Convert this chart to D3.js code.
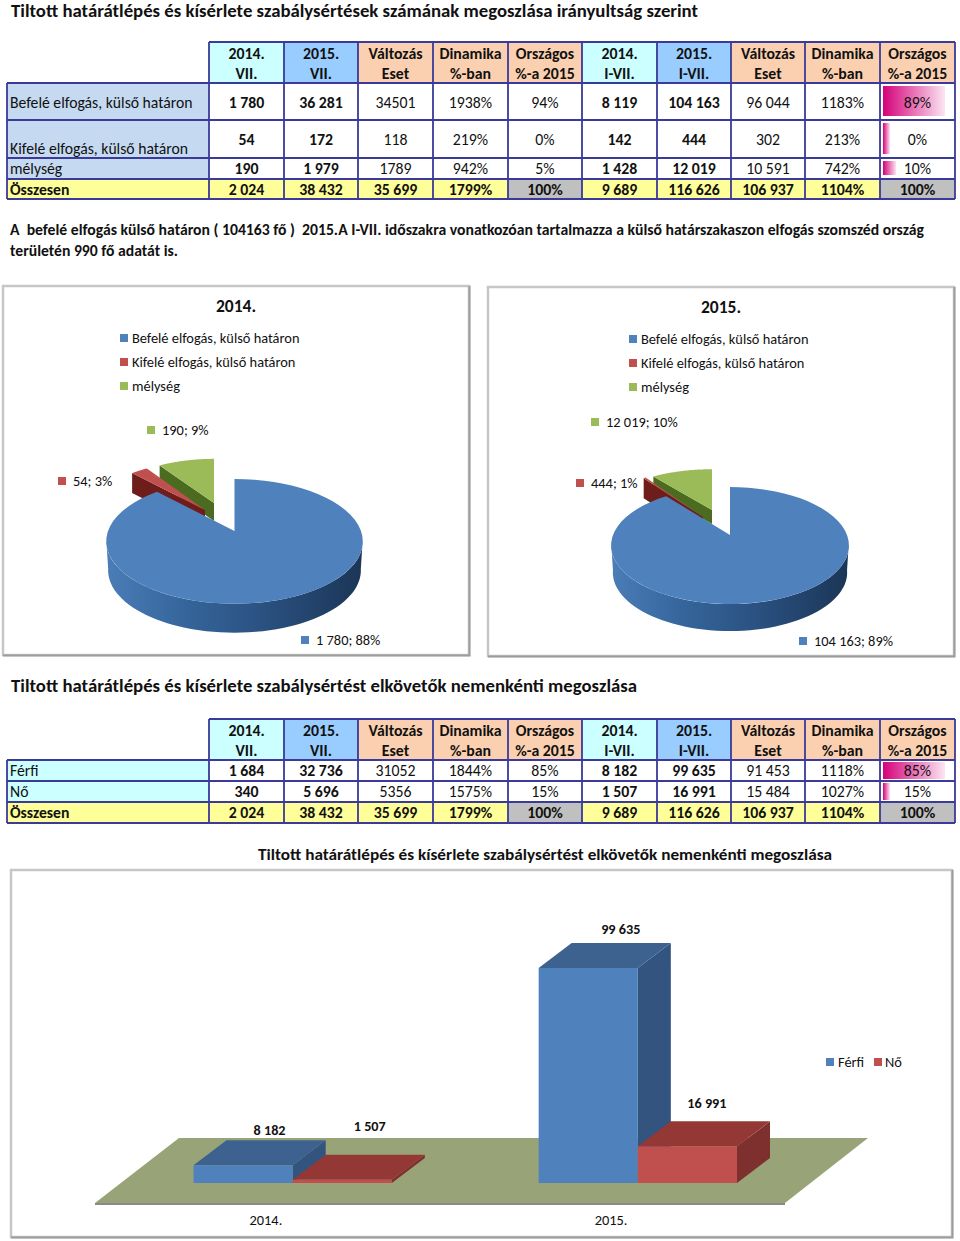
<!DOCTYPE html>
<html><head><meta charset="utf-8">
<script src="https://cdnjs.cloudflare.com/ajax/libs/d3/7.8.5/d3.min.js"></script>
<style>html,body{margin:0;padding:0;background:#fff}svg{display:block}text{font-family:Carlito,Lato,"Open Sans",sans-serif;fill:#111}</style>
</head><body><svg id="c" width="960" height="1241"></svg>
<script>
// ---- data ----
const title1 = "Tiltott határátlépés és kísérlete szabálysértések számának megoszlása irányultság szerint";
const title2 = "Tiltott határátlépés és kísérlete szabálysértést elkövetők nemenkénti megoszlása";
const note1 = "A  befelé elfogás külső határon ( 104163 fő )  2015.A I-VII. időszakra vonatkozóan tartalmazza a külső határszakaszon elfogás szomszéd ország";
const note2 = "területén 990 fő adatát is.";
const headerTop = ["2014.","2015.","Változás","Dinamika","Országos","2014.","2015.","Változás","Dinamika","Országos"];
const headerBottom = ["VII.","VII.","Eset","%-ban","%-a 2015","I-VII.","I-VII.","Eset","%-ban","%-a 2015"];
const table1Labels = ["Befelé elfogás, külső határon","Kifelé elfogás, külső határon","mélység","Összesen"];
const table1Rows = [
 ["1 780","36 281","34501","1938%","94%","8 119","104 163","96 044","1183%","89%"],
 ["54","172","118","219%","0%","142","444","302","213%","0%"],
 ["190","1 979","1789","942%","5%","1 428","12 019","10 591","742%","10%"],
 ["2 024","38 432","35 699","1799%","100%","9 689","116 626","106 937","1104%","100%"]];
const table1Share = [89,0,10];
const table2Labels = ["Férfi","Nő","Összesen"];
const table2Rows = [
 ["1 684","32 736","31052","1844%","85%","8 182","99 635","91 453","1118%","85%"],
 ["340","5 696","5356","1575%","15%","1 507","16 991","15 484","1027%","15%"],
 ["2 024","38 432","35 699","1799%","100%","9 689","116 626","106 937","1104%","100%"]];
const table2Share = [85,15];
const pieCategories = ["Befelé elfogás, külső határon","Kifelé elfogás, külső határon","mélység"];
const pie2014Values = [1780,54,190];
const pie2014Labels = ["1 780; 88%","54; 3%","190; 9%"];
const pie2015Values = [104163,444,12019];
const pie2015Labels = ["104 163; 89%","444; 1%","12 019; 10%"];
const barYears = ["2014.","2015."];
const barSeries = ["Férfi","Nő"];
const ferfiValues = [8182,99635];
const noValues = [1507,16991];
const ferfiLabels = ["8 182","99 635"];
const noLabels = ["1 507","16 991"];

// ---- layout ----
const svg = d3.select("#c");
const defs = svg.append("defs");
function T(parent,x,y,s,o={}){
  const t = parent.append("text").attr("x",x).attr("y",y).text(s)
    .attr("font-size",o.size||15.8).attr("font-weight",o.weight||400)
    .attr("text-anchor",o.anchor||"start").style("white-space","pre");
  if(o.width) t.attr("textLength",o.width).attr("lengthAdjust","spacingAndGlyphs");
  return t;
}
const colEdges = [209,284,358,433,508,582,657,731,805,880,955];
const LEFT = 7, INK = "#3a3a9a";
const cHead = ["#ccffff","#99ccff","#fbd0b0","#fbd0b0","#fbd0b0"];
const grad = defs.append("linearGradient").attr("id","bar").attr("x1",0).attr("x2",1).attr("y1",0).attr("y2",0);
grad.append("stop").attr("offset",0).attr("stop-color","#d5007a");
grad.append("stop").attr("offset",1).attr("stop-color","#d5007a").attr("stop-opacity",.1);

function table(g,opt){
  const cols = d3.range(10);
  const cellX = i=>colEdges[i], cellW = i=>colEdges[i+1]-colEdges[i];
  g.selectAll(".h").data(cols).join("rect").attr("class","h")
    .attr("x",cellX).attr("width",cellW).attr("y",opt.head[0]).attr("height",opt.head[1]-opt.head[0])
    .attr("fill",i=>cHead[i%5]);
  const ys = opt.rowY, n = opt.rows.length;
  opt.rows.forEach((row,r)=>{
    const y0=ys[r], y1=ys[r+1], total=r===n-1;
    g.append("rect").attr("x",LEFT).attr("width",colEdges[0]-LEFT).attr("y",y0).attr("height",y1-y0)
      .attr("fill",total?"#ffff99":opt.labelFill);
    g.selectAll(null).data(row).join("rect")
      .attr("x",(d,i)=>cellX(i)).attr("width",(d,i)=>cellW(i)).attr("y",y0).attr("height",y1-y0)
      .attr("fill",(d,i)=>total?((i%5===4)?"#c0c0c0":"#ffff99"):"#fff");
    if(!total){
      const [inT,inB]=opt.barInset;
      g.append("rect").attr("x",colEdges[9]+3).attr("y",y0+inT).attr("height",y1-y0-inT-inB)
        .attr("width",opt.barScale(opt.share[r])).attr("fill","url(#bar)");
    }
  });
  const grid=d3.path();
  colEdges.forEach(x=>{grid.moveTo(x,opt.head[0]);grid.lineTo(x,ys[n]);});
  grid.moveTo(colEdges[0],opt.head[0]);grid.lineTo(colEdges[10],opt.head[0]);
  ys.forEach(y=>{grid.moveTo(LEFT,y);grid.lineTo(colEdges[10],y);});
  grid.moveTo(LEFT,ys[0]);grid.lineTo(LEFT,ys[n]);
  g.append("path").attr("d",grid.toString()).attr("fill","none").attr("stroke",INK).attr("stroke-width",1.8);
  cols.forEach(i=>{
    const cx=cellX(i)+cellW(i)/2;
    T(g,cx,opt.headBase[0],headerTop[i],{anchor:"middle",weight:700});
    T(g,cx,opt.headBase[1],headerBottom[i],{anchor:"middle",weight:700});
  });
  opt.rows.forEach((row,r)=>{
    const total=r===n-1;
    T(g,10,opt.labelBase[r],opt.labels[r],{weight:total?700:400,size:15.7});
    row.forEach((s,i)=>{
      const bold = total || i===0||i===1||i===5||i===6;
      T(g,cellX(i)+cellW(i)/2,opt.base[r],s,{anchor:"middle",weight:bold?700:400});
    });
  });
}

T(svg,11,16.5,title1,{size:17.2,weight:700,width:687});
table(svg.append("g"),{head:[42,83],headBase:[58.5,78.5],rowY:[83,120,158,179,199],
  rows:table1Rows,labels:table1Labels,labelFill:"#c5d9f1",
  base:[107.5,144.5,174,194.5],labelBase:[107.5,153.5,174,194.5],
  share:table1Share,barInset:[3,4],
  barScale:d3.scaleLinear().domain([0,89]).range([7,62])});
T(svg,10,235,note1,{size:15.5,weight:700,width:914});
T(svg,10,256,note2,{size:15.5,weight:700,width:168});
T(svg,11,692,title2,{size:18,weight:700,width:626});
table(svg.append("g"),{head:[719,760],headBase:[735.5,756],rowY:[760,781,802,823],
  rows:table2Rows,labels:table2Labels,labelFill:"#ccffff",
  base:[776,797,818],labelBase:[776,797,818],
  share:table2Share,barInset:[2,2],
  barScale:d3.scaleLinear().domain([15,85]).range([7,62])});
T(svg,258,860,title2,{size:16.5,weight:700,width:574});

function frame(x0,y0,x1,y1){
  const g=svg.append("g");
  g.append("rect").attr("x",x0).attr("y",y0).attr("width",x1-x0).attr("height",y1-y0)
    .attr("fill","#fff").attr("stroke","#c6c6c6").attr("stroke-width",2.5);
  g.append("path").attr("d",`M${x1+.5},${y0}V${y1+.5}H${x0}`).attr("fill","none").attr("stroke","#9c9c9c").attr("stroke-width",2);
}
frame(3,286,469,655);
frame(488,287,954,656);
frame(11,870,952,1237);

// ---- pies ----
const pieColors = ["#4f81bd","#c0504d","#9bbb59"];
const pieWalls = [null,"#6e1d1b","#4b6b21"];
function pieChart(o){
  const g=svg.append("g");
  T(g,o.titleX,o.titleY,o.title,{anchor:"middle",size:17.5,weight:700});
  pieCategories.forEach((c,i)=>{
    const y=o.legY+i*24;
    g.append("rect").attr("x",o.legX).attr("y",y-4).attr("width",8).attr("height",8).attr("fill",pieColors[i]);
    T(g,o.legX+12,y+5,c,{size:14.4}).attr("fill","#222");
  });
  const arcs=d3.pie().sort(null)(o.values);
  const {w,h,p}=o;
  const proj=(t,a)=>{
    const u=Math.sin(t),v=-Math.cos(t),q=1-p*v;
    return [a.x+(a.sx||1)*w*u/q, a.y+(a.sy||1)*h*v/q];
  };
  const line=d3.line();
  const arcPts=(t0,t1,a)=>d3.range(0,61).map(i=>proj(t0+(t1-t0)*i/60,a));
  [2,1].forEach(i=>{
    const a=o.slices[i],d=arcs[i];
    const e=proj(d.startAngle,a);
    g.append("path").attr("d",line([e,[a.x,a.y],[a.x,a.y+a.depth],[e[0],e[1]+a.depth]])+"Z").attr("fill",pieWalls[i]);
    g.append("path").attr("d",line([[a.x,a.y],...arcPts(d.startAngle,d.endAngle,a)])+"Z").attr("fill",pieColors[i]);
  });
  const a=o.slices[0],d=arcs[0];
  const id="wall"+o.title.slice(0,4);
  const gr=defs.append("linearGradient").attr("id",id).attr("gradientUnits","userSpaceOnUse")
    .attr("x1",a.x-w).attr("x2",a.x+w).attr("y1",0).attr("y2",0);
  [[0,"#4a7cb6"],[.3,"#35659b"],[.6,"#2b5282"],[1,"#1b3657"]].forEach(s=>gr.append("stop").attr("offset",s[0]).attr("stop-color",s[1]));
  const tA=Math.PI/180*98,tB=Math.PI/180*262;
  const top=arcPts(tA,tB,a);
  const bot=arcPts(tB,tA,{...a,y:a.y+a.depth,sx:.985});
  g.append("path").attr("d",line([...top,...bot])+"Z").attr("fill",`url(#${id})`);
  g.append("path").attr("d",line([[a.x,a.y],...arcPts(d.startAngle,d.endAngle,a)])+"Z").attr("fill",pieColors[0]);
  o.labels.forEach((s,i)=>{
    const [x,y]=o.labelPos[i];
    g.append("rect").attr("x",x).attr("y",y-4).attr("width",8).attr("height",8).attr("fill",pieColors[i]);
    T(g,x+15,y+5,s,{size:14.4}).attr("fill","#222");
  });
}
pieChart({title:"2014.",titleX:236,titleY:312,legX:120,legY:338,values:pie2014Values,labels:pie2014Labels,
  labelPos:[[301,640],[58,481],[147,430]],w:126.5,h:60.6,p:.1667,
  slices:[{x:234.5,y:531,depth:29},{x:205,y:510,depth:20,sx:.94,sy:.94},{x:214,y:503,depth:18,sx:.88,sy:.85}]});
pieChart({title:"2015.",titleX:721,titleY:313,legX:629,legY:339,values:pie2015Values,labels:pie2015Labels,
  labelPos:[[799,641],[576,483],[591,422]],w:117,h:56.6,p:.18,
  slices:[{x:730,y:535,depth:27},{x:703,y:517,depth:20,sx:.93,sy:1},{x:712,y:510,depth:14,sx:.95,sy:.85}]});

// ---- 3D bars ----
const gB=svg.append("g");
const floorBack=1138,floorFront=1203;
gB.append("path").attr("d",d3.line()([[95,floorFront],[785,floorFront],[868,floorBack],[179,floorBack]])+"Z").attr("fill","#98a377");
gB.append("path").attr("d",d3.line()([[95,floorFront+1],[785,floorFront+1]])).attr("stroke","#8a8a8a").attr("stroke-width",2);
const x0=d3.scaleBand().domain(barYears).range([193.5,737]).paddingInner(.4254);
const x1=d3.scaleBand().domain(barSeries).range([0,x0.bandwidth()]);
const yB=d3.scaleLinear().domain([0,99635]).range([1183,968]);
const DX=33,DY=25;
const barColors={"Férfi":["#4f81bd","#3e628f","#32547e"],"Nő":["#c0504d","#943836","#7e302e"]};
const bars=[];
barYears.forEach((yr,i)=>{
  bars.push({yr,s:"Férfi",v:ferfiValues[i],lab:ferfiLabels[i]});
  bars.push({yr,s:"Nő",v:noValues[i],lab:noLabels[i]});
});
const labelOffsets=[[10,-30],[11,-49],[16,-34],[3,-38]];
const barG=gB.selectAll(".b").data(bars).join("g").attr("class","b");
barG.each(function(d,i){
  const g=d3.select(this),L=x0(d.yr)+x1(d.s),R=L+x1.bandwidth(),B=yB(0),Tp=yB(d.v),c=barColors[d.s];
  const l=d3.line();
  g.append("path").attr("d",l([[R,B],[R+DX,B-DY],[R+DX,Tp-DY],[R,Tp]])+"Z").attr("fill",c[2]);
  g.append("path").attr("d",l([[L,Tp],[L+DX,Tp-DY],[R+DX,Tp-DY],[R,Tp]])+"Z").attr("fill",c[1]);
  g.append("rect").attr("x",L).attr("y",Tp).attr("width",R-L).attr("height",B-Tp).attr("fill",c[0]);
});
barG.each(function(d,i){
  const L=x0(d.yr)+x1(d.s),o=labelOffsets[i];
  T(gB,L+x1.bandwidth()/2+DX/2+o[0],yB(d.v)+o[1],d.lab,{anchor:"middle",size:14.2,weight:700});
});
barYears.forEach(y=>T(gB,x0(y)+x1.bandwidth()*.73,1225,y,{anchor:"middle",size:14.4}).attr("fill","#222"));
const legX=[826,874];
barSeries.forEach((s,i)=>{
  gB.append("rect").attr("x",legX[i]).attr("y",1058).attr("width",8).attr("height",8).attr("fill",barColors[s][0]);
  T(gB,legX[i]+(i?11:12),1067,s,{size:14.4}).attr("fill","#222");
});
</script></body></html>
